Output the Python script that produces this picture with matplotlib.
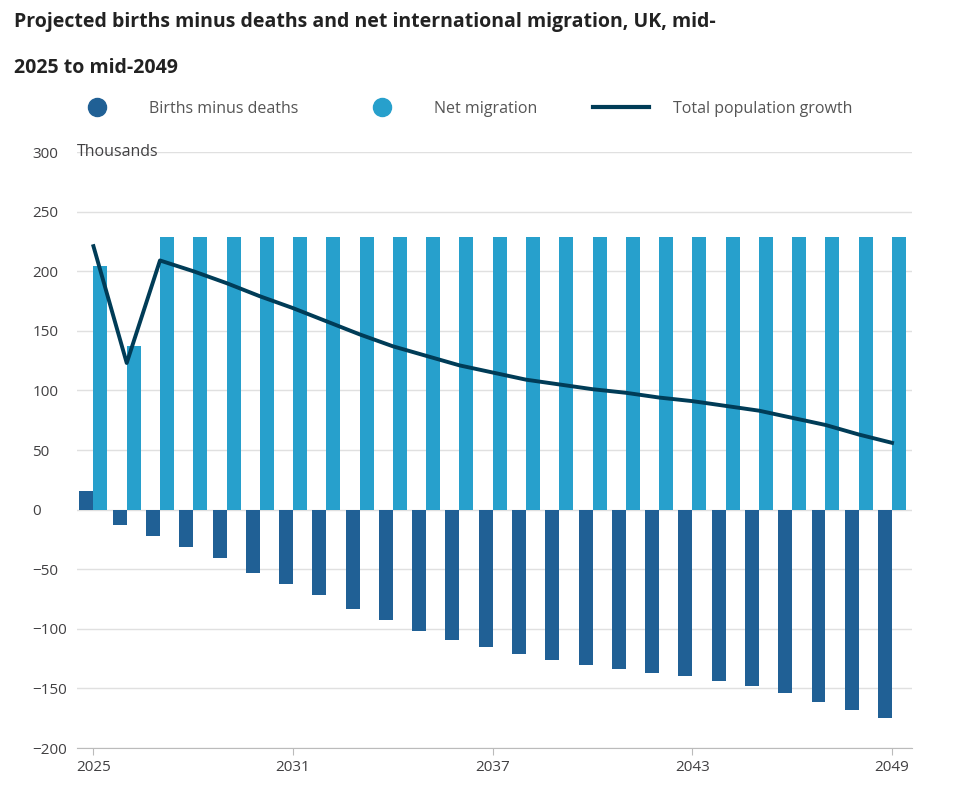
import matplotlib
matplotlib.use("Agg")
from matplotlib import pyplot as plt
from matplotlib.lines import Line2D

plt.rcParams['font.family'] = ['Open Sans', 'DejaVu Sans']

years = list(range(2025, 2050))
births_minus_deaths = [16, -13, -22, -31, -41, -53, -62, -72, -83, -93, -102, -109, -115,
                       -121, -126, -130, -134, -137, -140, -144, -148, -154, -161, -168, -175]
net_migration = [204, 137] + [229] * 23
total_growth = [221, 123, 209, 200, 190, 179, 169, 158, 147, 137, 129, 121, 115,
                109, 105, 101, 98, 94, 91, 87, 83, 77, 71, 63, 56]
tick_years = [2025, 2031, 2037, 2043, 2049]

dark = '#206095'
light = '#27a0cc'
navy = '#003c57'

fig = plt.figure(figsize=(9.6, 8), dpi=100)
ax = fig.add_axes([0.08, 0.065, 0.87, 0.745])

w = 0.42
ax.bar([y - w / 2 for y in years], births_minus_deaths, width=w, color=dark, zorder=2)
ax.bar([y + w / 2 for y in years], net_migration, width=w, color=light, zorder=2)
ax.plot(years, total_growth, color=navy, lw=2.8, zorder=3)

ax.set_ylim(-200, 300)
ax.set_xlim(2024.5, 2049.6)
ax.set_yticks(range(-200, 301, 50))
ax.set_xticks(tick_years)
ax.grid(axis='y', color='#e0e0e0', lw=1, zorder=0)
for s in ['top', 'right', 'left']:
    ax.spines[s].set_visible(False)
ax.spines['bottom'].set_color('#bbbbbb')
ax.tick_params(axis='y', length=0, labelsize=11, colors='#414042', pad=18)
ax.tick_params(axis='x', length=5, color='#bbbbbb', labelsize=11, colors='#414042')
for lab in ax.get_yticklabels():
    lab.set_horizontalalignment('left')
ax.yaxis.set_tick_params(pad=32)
ax.text(0.0, 1.0, 'Thousands', transform=ax.transAxes, fontsize=11.5, color='#414042',
        ha='left', va='center')

fig.text(0.015, 0.985, 'Projected births minus deaths and net international migration, UK, mid-',
         fontsize=14, fontweight='bold', color='#222222', va='top')
fig.text(0.015, 0.928, '2025 to mid-2049', fontsize=14, fontweight='bold', color='#222222', va='top')

handles = [Line2D([], [], marker='o', ls='', color=dark, markersize=13),
           Line2D([], [], marker='o', ls='', color=light, markersize=13),
           Line2D([], [], color=navy, lw=3)]
fig.legend(handles, ['Births minus deaths', 'Net migration', 'Total population growth'],
           loc='center', bbox_to_anchor=(0.48, 0.864), ncol=3, frameon=False,
           fontsize=11.5, labelcolor='#555555', handlelength=3.5, columnspacing=3.5, handletextpad=1.5)

fig.savefig('out.png')
